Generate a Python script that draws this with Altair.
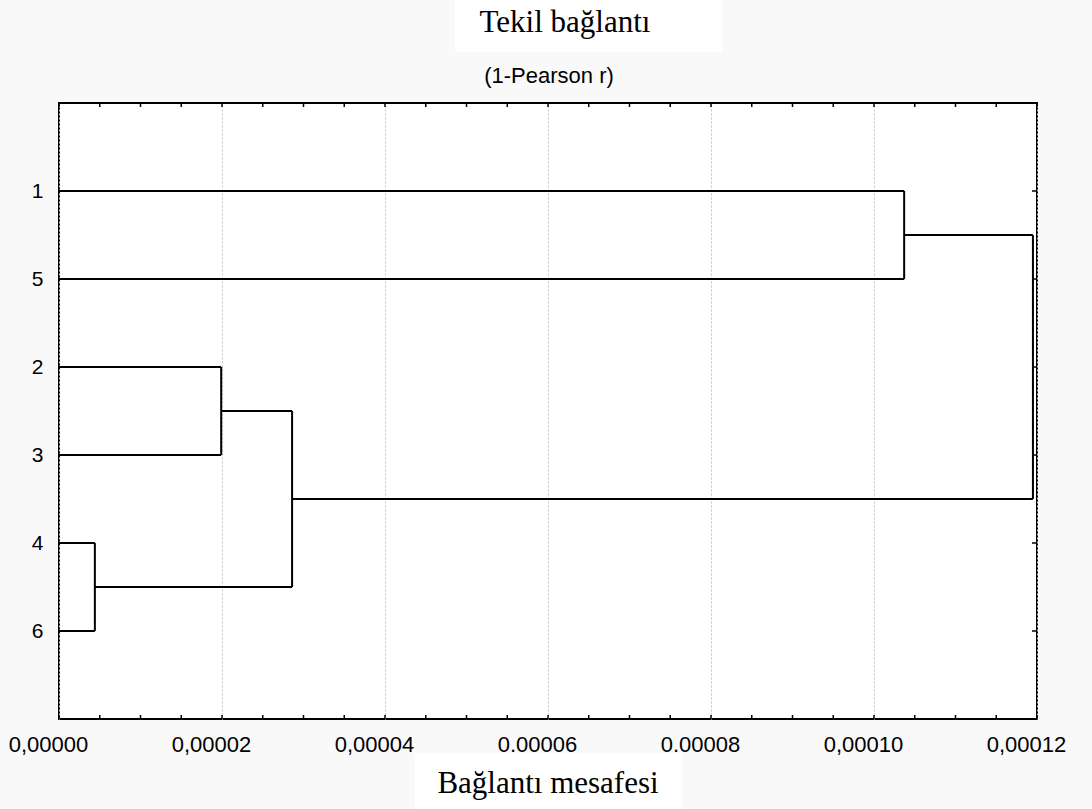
import altair as alt
import pandas as pd

# ---- data ----
leaf_order = ["1", "5", "2", "3", "4", "6"]          # top to bottom
merge_left = ["4", "2", "C2", "1", "C4"]
merge_right = ["6", "3", "C1", "5", "C3"]
merge_height = [0.0000044, 0.0000199, 0.0000286, 0.0001037, 0.0001195]

x_tick_values = [0, 0.00002, 0.00004, 0.00006, 0.00008, 0.00010, 0.00012]
x_tick_labels = ["0,00000", "0,00002", "0,00004", "0.00006", "0.00008", "0,00010", "0,00012"]
minor_ticks = [i * 0.000005 for i in range(25)]

title_text = "Tekil bağlantı"
subtitle_text = "(1-Pearson r)"
x_title_text = "Bağlantı mesafesi"

W, H = 978, 616

# ---- build dendrogram segments ----
pos = {leaf: i + 1 for i, leaf in enumerate(leaf_order)}
hgt = {leaf: 0.0 for leaf in leaf_order}
segs = []
for i, (a, b, h) in enumerate(zip(merge_left, merge_right, merge_height)):
    for c in (a, b):
        segs.append({"x": hgt[c], "x2": h, "y": pos[c], "y2": pos[c]})
    segs.append({"x": h, "x2": h, "y": pos[a], "y2": pos[b]})
    cid = f"C{i + 1}"
    pos[cid] = (pos[a] + pos[b]) / 2
    hgt[cid] = h
seg_df = pd.DataFrame(segs)

xscale = alt.Scale(domain=[0, 0.00012], nice=False, zero=False)
yscale = alt.Scale(domain=[0, 7], reverse=True, nice=False)

label_arr = "[" + ",".join(f"'{s}'" for s in x_tick_labels) + "]"
leaf_arr = "[" + ",".join(f"'{s}'" for s in leaf_order) + "]"

x_axis = alt.Axis(
    values=x_tick_values,
    labelExpr=f"{label_arr}[round(datum.value/0.00002)]",
    grid=True, gridDash=[2, 2], gridColor="#c4c4c4", gridWidth=1,
    ticks=False, domain=False, title=None,
    labelFont="Liberation Sans", labelFontSize=22, labelColor="black",
    labelPadding=15, labelFlush=False, labelOffset=-11,
)
y_axis = alt.Axis(
    values=[1, 2, 3, 4, 5, 6],
    labelExpr=f"{leaf_arr}[datum.value-1]",
    grid=False, ticks=False, domain=False, title=None,
    labelFont="Liberation Sans", labelFontSize=21, labelColor="black",
    labelPadding=16,
)

dendro = alt.Chart(seg_df).mark_rule(color="black", strokeWidth=2).encode(
    x=alt.X("x:Q", scale=xscale, axis=x_axis),
    x2="x2:Q",
    y=alt.Y("y:Q", scale=yscale, axis=y_axis),
    y2="y2:Q",
)

tick_df = pd.DataFrame({"t": minor_ticks})
bottom_ticks = alt.Chart(tick_df).mark_rule(color="black", strokeWidth=1.5).encode(
    x=alt.X("t:Q", scale=xscale), y=alt.value(H), y2=alt.value(H - 4)
)
top_ticks = alt.Chart(tick_df).mark_rule(color="black", strokeWidth=1.5).encode(
    x=alt.X("t:Q", scale=xscale), y=alt.value(0), y2=alt.value(4)
)
leaf_df = pd.DataFrame({"p": [1, 2, 3, 4, 5, 6]})
right_ticks = alt.Chart(leaf_df).mark_rule(color="black", strokeWidth=1.5).encode(
    y=alt.Y("p:Q", scale=yscale), x=alt.value(W), x2=alt.value(W - 5)
)

one = pd.DataFrame({"a": [0]})
top_box = alt.Chart(one).mark_rect(color="white").encode(
    x=alt.value(396), x2=alt.value(663), y=alt.value(-103), y2=alt.value(-51)
)
bottom_box = alt.Chart(one).mark_rect(color="white").encode(
    x=alt.value(356), x2=alt.value(623), y=alt.value(650), y2=alt.value(706)
)
title_mark = alt.Chart(pd.DataFrame({"t": [title_text]})).mark_text(
    font="Liberation Serif", fontSize=31, color="black", align="center", baseline="alphabetic"
).encode(text="t:N", x=alt.value(506), y=alt.value(-71))
subtitle_mark = alt.Chart(pd.DataFrame({"t": [subtitle_text]})).mark_text(
    font="Liberation Sans", fontSize=22, color="black", align="center", baseline="alphabetic"
).encode(text="t:N", x=alt.value(490), y=alt.value(-20))
xtitle_mark = alt.Chart(pd.DataFrame({"t": [x_title_text]})).mark_text(
    font="Liberation Serif", fontSize=31, color="black", align="center", baseline="alphabetic"
).encode(text="t:N", x=alt.value(489), y=alt.value(690))

chart = alt.layer(
    top_box, bottom_box, dendro, bottom_ticks, top_ticks, right_ticks,
    title_mark, subtitle_mark, xtitle_mark,
).properties(
    width=W, height=H,
    autosize=alt.AutoSizeParams(type="none"),
    padding={"left": 59, "top": 103, "right": 55, "bottom": 90},
    background="#f9f9f9",
).configure_view(
    fill="white", stroke="black", strokeWidth=2
)

chart.save("out.html", embed_options={"renderer": "svg", "actions": False})
